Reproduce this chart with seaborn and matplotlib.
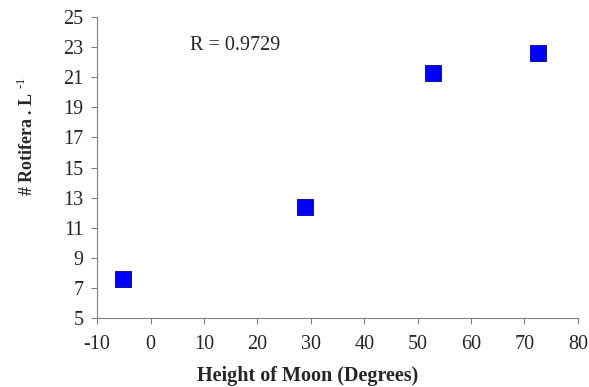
import pandas as pd
import matplotlib
matplotlib.use("Agg")
import matplotlib.pyplot as plt
import seaborn as sns

sns.set_style("white")
plt.rcParams["font.family"] = ["Liberation Serif", "DejaVu Serif"]
plt.rcParams["mathtext.fontset"] = "custom"
plt.rcParams["mathtext.rm"] = "Liberation Serif"

# moon height (degrees) vs rotifer density
moon_height = [-5.1, 29.0, 52.9, 72.6]
rotifera = [7.6, 12.4, 21.3, 22.6]
x_ticks = list(range(-10, 81, 10))
y_ticks = list(range(5, 26, 2))

df = pd.DataFrame({"height": moon_height, "rotifera": rotifera})


def main():
    fig = plt.figure(figsize=(5.89, 3.87), dpi=100)
    ax = fig.add_axes([0.165, 0.178, 0.816, 0.778])

    sns.scatterplot(data=df, x="height", y="rotifera", ax=ax, marker="s",
                    s=120, color="#0000ff", edgecolor="#00008b", linewidth=0.6)

    ax.set_xlim(-10, 80)
    ax.set_ylim(5, 25)
    ax.set_xticks(x_ticks)
    ax.set_yticks(y_ticks)
    ax.set_xticklabels([str(t) for t in x_ticks])
    ax.set_yticklabels([str(t) for t in y_ticks])
    ax.tick_params(axis="both", direction="out", length=4, width=0.8,
                   color="#808080", labelsize=14.5,
                   bottom=True, left=True)
    ax.tick_params(axis="x", pad=8)
    ax.tick_params(axis="y", pad=6)

    sns.despine(ax=ax)
    for side in ["left", "bottom"]:
        ax.spines[side].set_color("#808080")
        ax.spines[side].set_linewidth(0.8)

    ax.text(7.4, 23.1, "R = 0.9729", fontsize=14.5, va="center", ha="left")

    ax.set_xlabel("Height of Moon (Degrees)", fontsize=14.5, fontweight="bold",
                  labelpad=9)
    ax.set_ylabel("# Rotifera . L $^{\\text{-1}}$", fontsize=13,
                  fontweight="bold", labelpad=19)
    # labels in the original sit off-centre
    ax.xaxis.label.set_x(0.437)
    ax.yaxis.label.set_y(0.605)

    fig.savefig("out.png", dpi=100)


if __name__ == "__main__":
    main()
